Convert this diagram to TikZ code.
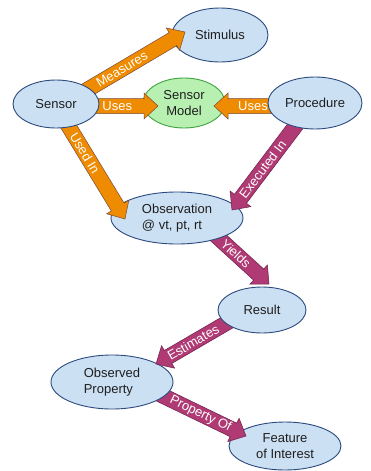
\documentclass[tikz,border=0pt]{standalone}
\usepackage{fontspec}
\setmainfont{Liberation Sans}
\usetikzlibrary{calc,shapes.geometric}
\pgfdeclarelayer{bg}
\pgfdeclarelayer{d0}\pgfdeclarelayer{d1}\pgfdeclarelayer{d2}\pgfdeclarelayer{d3}
\pgfdeclarelayer{d4}\pgfdeclarelayer{d5}\pgfdeclarelayer{d6}\pgfdeclarelayer{d7}
\pgfdeclarelayer{d8}\pgfdeclarelayer{d9}
\pgfsetlayers{bg,d0,d1,d2,d3,d4,d5,d6,d7,d8,d9,main}
\definecolor{nodefill}{HTML}{CCE0F4}
\definecolor{nodeline}{HTML}{2B4A7E}
\definecolor{greenfill}{HTML}{B8F0B2}
\definecolor{greenline}{HTML}{3FA33F}
\definecolor{orangefill}{HTML}{EF8B00}
\definecolor{orangeline}{HTML}{7A4A3A}
\definecolor{magfill}{HTML}{B03A74}
\definecolor{magline}{HTML}{6E1E48}
\definecolor{txt}{HTML}{1E1E1E}
\tikzset{
 concept/.style={ellipse, draw=nodeline, fill=nodefill, line width=0.9pt, inner sep=0pt, text=txt, font=\fontsize{13}{15.5}\selectfont, align=center},
 modelnode/.style={concept, draw=greenline, fill=greenfill},
 orangearrow/.style={fill=orangefill, draw=orangeline, line width=0.5pt},
 magarrow/.style={fill=magfill, draw=magline, line width=0.5pt},
 arrowlabel/.style={sloped, text=white, font=\fontsize{13}{15}\selectfont, inner sep=0pt},
}
\newcommand\fatarrow[3]{%
 \coordinate (fa-back) at ($(#3)!14pt!(#2)$);
 \path[#1] ($(#2)!7.5pt!90:(#3)$) -- ($(fa-back)!7.5pt!90:(#3)$) -- ($(fa-back)!13pt!90:(#3)$) -- (#3) -- ($(fa-back)!13pt!-90:(#3)$) -- ($(fa-back)!7.5pt!-90:(#3)$) -- ($(#2)!7.5pt!-90:(#3)$) -- cycle;
}
\begin{document}
\begin{tikzpicture}[x=1pt,y=-1pt]
\begin{pgfonlayer}{bg}
\useasboundingbox[fill=white] (0,0) rectangle (370,471);
\end{pgfonlayer}
% nodes
\begin{pgfonlayer}{d0}
\node[concept, minimum width=112, minimum height=48] (foi) at (285,446) {Feature\\of Interest};
\end{pgfonlayer}
\begin{pgfonlayer}{d2}
\node[concept, minimum width=122, minimum height=54, align=left] (obsprop) at (112,382) {Observed\\Property};
\end{pgfonlayer}
\begin{pgfonlayer}{d4}
\node[concept, minimum width=88, minimum height=46] (result) at (262,310) {Result};
\end{pgfonlayer}
\begin{pgfonlayer}{d6}
\node[concept, minimum width=132, minimum height=52, align=left] (obs) at (177,218) {Observation\\@ vt, pt, rt};
\end{pgfonlayer}
\begin{pgfonlayer}{d8}
\node[concept, minimum width=96, minimum height=54] (stimulus) at (220,35) {Stimulus};
\node[modelnode, minimum width=82, minimum height=50] (model) at (184,103) {Sensor\\Model};
\end{pgfonlayer}
\node[concept, minimum width=86, minimum height=48] (sensor) at (56,104) {Sensor};
\node[concept, minimum width=94, minimum height=52] (procedure) at (315,103) {Procedure};
% arrow end points
\coordinate (ms) at ($(sensor)+(24,-10)$);
\coordinate (mt) at ($(stimulus)+(-35,-3)$);
\coordinate (uls) at ($(sensor)+(34,2)$);
\coordinate (ult) at ($(model)+(-26,3)$);
\coordinate (urs) at ($(procedure)+(-37,3)$);
\coordinate (urt) at ($(model)+(30,3)$);
\coordinate (uis) at ($(sensor)+(10,18)$);
\coordinate (uit) at ($(obs)+(-52,1)$);
\coordinate (eis) at ($(procedure)+(-15,17)$);
\coordinate (eit) at ($(obs)+(55,-8)$);
\coordinate (ys) at ($(obs)+(35,14)$);
\coordinate (yt) at ($(result)+(7,-26)$);
\coordinate (es) at ($(result)+(-27,8)$);
\coordinate (et) at ($(obsprop)+(44,-18)$);
\coordinate (ps) at ($(obsprop)+(43,10)$);
\coordinate (pt) at ($(foi)+(-39,-10)$);
% arrows
\begin{pgfonlayer}{d1}
\fatarrow{magarrow}{ps}{pt}
\path (ps) -- (pt) node[arrowlabel, pos=0.5] {Property Of};
\end{pgfonlayer}
\begin{pgfonlayer}{d3}
\fatarrow{magarrow}{es}{et}
\path (es) -- (et) node[arrowlabel, pos=0.53] {Estimates};
\end{pgfonlayer}
\begin{pgfonlayer}{d5}
\fatarrow{magarrow}{ys}{yt}
\path (ys) -- (yt) node[arrowlabel, pos=0.42] {Yields};
\end{pgfonlayer}
\begin{pgfonlayer}{d7}
\fatarrow{orangearrow}{uis}{uit}
\path (uis) -- (uit) node[arrowlabel, pos=0.32] {Used In};
\fatarrow{magarrow}{eis}{eit}
\path (eis) -- (eit) node[arrowlabel, pos=0.55] {Executed In};
\end{pgfonlayer}
\begin{pgfonlayer}{d9}
\fatarrow{orangearrow}{ms}{mt}
\path (ms) -- (mt) node[arrowlabel, pos=0.4] {Measures};
\fatarrow{orangearrow}{uls}{ult}
\path (uls) -- (ult) node[arrowlabel, pos=0.4] {Uses};
\fatarrow{orangearrow}{urs}{urt}
\path (urs) -- (urt) node[arrowlabel, pos=0.39] {Uses};
\end{pgfonlayer}
\end{tikzpicture}
\end{document}
